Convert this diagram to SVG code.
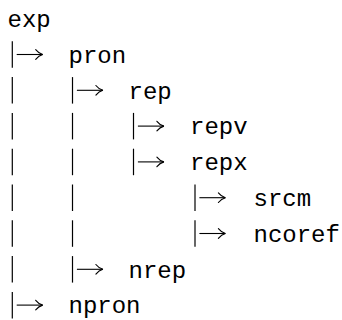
<svg xmlns="http://www.w3.org/2000/svg" width="342" height="320" viewBox="0 0 342 320">
<style>
  .lbl { font-family: "Liberation Mono", "Courier New", monospace; font-size: 24px; fill: #000; }
  .bar { stroke: #000; stroke-width: 1.2; fill: none; }
  .arr { stroke: #000; stroke-width: 1.1; fill: none; marker-end: url(#head); }
</style>
<defs>
  <marker id="head" markerUnits="userSpaceOnUse" markerWidth="12" markerHeight="12" refX="0" refY="0" viewBox="-9 -6 10 12" orient="auto" overflow="visible">
    <path d="M-7,-4.8 Q-4,-1 0,0 Q-4,1 -7,4.8" stroke="#000" stroke-width="1.1" fill="none" stroke-linecap="round"/>
  </marker>
</defs>
<rect width="342" height="320" fill="#fff"/>
<g id="connectors">
  <!-- row 1 -->
  <line class="bar" x1="12.3" y1="41.3" x2="12.3" y2="67.8"/>
  <path class="arr" d="M16.7,54.5 H42.7"/>
  <!-- row 2 -->
  <line class="bar" x1="12.3" y1="77.1" x2="12.3" y2="103.6"/>
  <line class="bar" x1="72.5" y1="77.1" x2="72.5" y2="103.6"/>
  <path class="arr" d="M76.9,90.3 H102.9"/>
  <!-- row 3 -->
  <line class="bar" x1="12.3" y1="112.9" x2="12.3" y2="139.4"/>
  <line class="bar" x1="72.5" y1="112.9" x2="72.5" y2="139.4"/>
  <line class="bar" x1="133.5" y1="112.9" x2="133.5" y2="139.4"/>
  <path class="arr" d="M137.9,126.1 H163.9"/>
  <!-- row 4 -->
  <line class="bar" x1="12.3" y1="148.7" x2="12.3" y2="175.2"/>
  <line class="bar" x1="72.5" y1="148.7" x2="72.5" y2="175.2"/>
  <line class="bar" x1="133.5" y1="148.7" x2="133.5" y2="175.2"/>
  <path class="arr" d="M137.9,161.9 H163.9"/>
  <!-- row 5 -->
  <line class="bar" x1="12.3" y1="184.5" x2="12.3" y2="211"/>
  <line class="bar" x1="72.5" y1="184.5" x2="72.5" y2="211"/>
  <line class="bar" x1="195" y1="184.5" x2="195" y2="211"/>
  <path class="arr" d="M199.4,197.7 H225.4"/>
  <!-- row 6 -->
  <line class="bar" x1="12.3" y1="220.3" x2="12.3" y2="246.8"/>
  <line class="bar" x1="72.5" y1="220.3" x2="72.5" y2="246.8"/>
  <line class="bar" x1="195" y1="220.3" x2="195" y2="246.8"/>
  <path class="arr" d="M199.4,233.5 H225.4"/>
  <!-- row 7 -->
  <line class="bar" x1="12.3" y1="256.1" x2="12.3" y2="282.6"/>
  <line class="bar" x1="72.5" y1="256.1" x2="72.5" y2="282.6"/>
  <path class="arr" d="M76.9,269.3 H102.9"/>
  <!-- row 8 -->
  <line class="bar" x1="12.3" y1="291.9" x2="12.3" y2="318.4"/>
  <path class="arr" d="M16.7,305.1 H42.7"/>
</g>
<g id="exp"><text class="lbl" x="7.5" y="27">exp</text></g>
<g id="pron"><text class="lbl" x="68.5" y="62.8">pron</text></g>
<g id="rep"><text class="lbl" x="128.5" y="98.6">rep</text></g>
<g id="repv"><text class="lbl" x="190" y="134.4">repv</text></g>
<g id="repx"><text class="lbl" x="190" y="170.2">repx</text></g>
<g id="srcm"><text class="lbl" x="253.5" y="206">srcm</text></g>
<g id="ncoref"><text class="lbl" x="253.5" y="241.8">ncoref</text></g>
<g id="nrep"><text class="lbl" x="128.5" y="277.6">nrep</text></g>
<g id="npron"><text class="lbl" x="68.5" y="313.4">npron</text></g>
</svg>
